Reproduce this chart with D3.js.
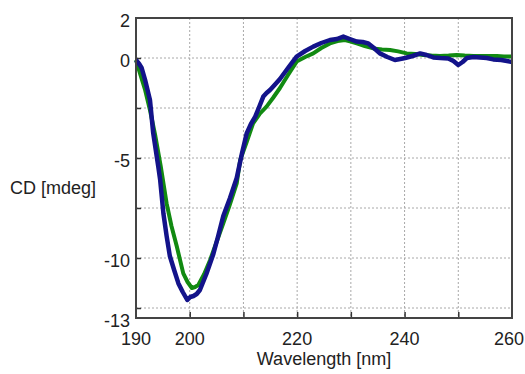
<!DOCTYPE html>
<html>
<head>
<meta charset="utf-8">
<script src="https://cdn.jsdelivr.net/npm/d3@7"></script>
<style>
  body { margin: 0; background: #fff; }
  text { font-family: "Liberation Sans", Arial, sans-serif; font-size: 18px; fill: #222; }
</style>
</head>
<body>
<svg width="525" height="374"></svg>
<script>
// data
const greenWl = [190, 190.75, 191.7, 192.6, 193.6, 194.6, 195.7, 196.6, 197.6, 198.8, 199.6, 200.4, 201.0, 201.6, 202.7, 203.8, 205.0, 206.25, 207.5, 208.75, 209.4, 210.6, 211.8, 213.0, 214.3, 215.5, 216.8, 218.3, 219.9, 221.5, 223.0, 224.5, 226.1, 227.5, 228.9, 230.0, 231.1, 232.6, 234.2, 235.8, 237.3, 238.8, 240.4, 242.0, 243.5, 245.0, 246.6, 248.2, 249.7, 251.2, 252.8, 255.0, 257.2, 258.5, 260];
const greenCd = [-0.1, -0.77, -1.6, -2.6, -3.9, -5.4, -7.27, -8.4, -9.43, -10.77, -11.2, -11.5, -11.45, -11.35, -10.8, -10.1, -9.2, -8.27, -7.3, -6.27, -5.1, -4.2, -3.27, -2.8, -2.43, -2.0, -1.5, -0.85, -0.18, 0.05, 0.23, 0.5, 0.73, 0.85, 0.9, 0.82, 0.73, 0.6, 0.48, 0.43, 0.4, 0.33, 0.23, 0.2, 0.15, 0.12, 0.1, 0.12, 0.15, 0.12, 0.1, 0.1, 0.1, 0.08, 0.07];

const blueWl = [190, 190.6, 191.06, 191.7, 192.6, 193.2, 194.15, 194.5, 195.1, 195.7, 196.3, 197.1, 197.9, 198.7, 199.55, 200.1, 200.7, 201.3, 201.9, 203.1, 204.4, 205.3, 206.25, 207.5, 208.75, 209.7, 210.6, 211.4, 212.2, 213.0, 213.7, 214.3, 214.95, 215.8, 216.8, 218.3, 219.9, 221.5, 223.0, 224.5, 226.1, 227.4, 228.6, 229.8, 231.1, 232.2, 233.25, 234.3, 235.4, 236.8, 238.2, 239.2, 240.1, 241.5, 242.9, 244.1, 245.35, 246.7, 248.15, 249.1, 250.0, 250.8, 251.6, 252.8, 254.05, 255.3, 256.5, 258.0, 259.6, 260];
const blueCd = [-0.1, -0.3, -0.5, -1.1, -2.1, -3.75, -5.43, -6.1, -7.77, -8.9, -9.9, -10.6, -11.27, -11.7, -12.1, -11.95, -11.9, -11.8, -11.6, -10.8, -9.8, -8.9, -7.9, -7.0, -6.0, -4.8, -3.77, -3.3, -2.93, -2.4, -1.93, -1.75, -1.6, -1.35, -1.05, -0.5, 0.07, 0.35, 0.57, 0.75, 0.9, 0.95, 1.07, 0.95, 0.82, 0.8, 0.73, 0.5, 0.23, 0.05, -0.1, -0.05, 0.0, 0.1, 0.23, 0.15, 0.03, 0.0, -0.02, -0.15, -0.35, -0.2, 0.0, 0.05, 0.03, 0.0, -0.07, -0.1, -0.18, -0.2];

const xTicks = [190, 200, 210, 220, 230, 240, 250, 260];
const xLabels = [190, 200, 220, 240, 260];
const yTicks = [2, 0, -2.5, -5, -7.5, -10, -12.5, -13];
const yLabels = [2, 0, -5, -10, -13];

const svg = d3.select('svg'),
  margin = {top: 18, right: 13, bottom: 56, left: 136},
  width = +svg.attr('width') - margin.left - margin.right,
  height = +svg.attr('height') - margin.top - margin.bottom;

const x = d3.scaleLinear().domain([190, 260]).range([0, width]),
  y = d3.scaleLinear().domain([-13, 2]).range([height, 0]);

const g = svg.append('g')
  .attr('transform', 'translate(' + margin.left + ',' + margin.top + ')');

// dotted grid
g.append('g').selectAll('line')
  .data(xTicks.filter(d => d > 190 && d < 260))
  .enter().append('line')
  .attr('x1', d => x(d)).attr('x2', d => x(d))
  .attr('y1', 0).attr('y2', height)
  .attr('stroke', '#a8a8a8').attr('stroke-dasharray', '2,2');
g.append('g').selectAll('line')
  .data([0, -2.5, -5, -7.5, -10, -12.5])
  .enter().append('line')
  .attr('x1', 0).attr('x2', width)
  .attr('y1', d => y(d)).attr('y2', d => y(d))
  .attr('stroke', '#a8a8a8').attr('stroke-dasharray', '2,2');

// inward ticks
g.append('g')
  .attr('transform', 'translate(0,' + height + ')')
  .call(d3.axisBottom(x).tickValues(xTicks.filter(d => d > 190 && d < 260)).tickSizeInner(-6).tickSizeOuter(0).tickFormat(''))
  .call(a => a.select('.domain').remove())
  .call(a => a.selectAll('line').attr('stroke', '#333').attr('stroke-width', 1.5));
g.append('g')
  .call(d3.axisLeft(y).tickValues(yTicks.filter(d => d < 2 && d > -13)).tickSizeInner(-5).tickSizeOuter(0).tickFormat(''))
  .call(a => a.select('.domain').remove())
  .call(a => a.selectAll('line').attr('stroke', '#333').attr('stroke-width', 1.5));

// tick labels (last one pulled in so it stays on the page)
g.selectAll('.xl')
  .data(xLabels)
  .enter().append('text')
  .attr('class', 'xl')
  .attr('x', d => d === 260 ? x(d) + 12 : x(d))
  .attr('y', height + 27)
  .attr('text-anchor', d => d === 260 ? 'end' : 'middle')
  .text(d => d);
g.selectAll('.yl')
  .data(yLabels)
  .enter().append('text')
  .attr('class', 'yl')
  .attr('x', -6)
  .attr('y', d => y(d) + 9)
  .attr('text-anchor', 'end')
  .text(d => d);

// axis titles
g.append('text')
  .attr('x', x(225))
  .attr('y', height + 47)
  .attr('text-anchor', 'middle')
  .text('Wavelength [nm]');
g.append('text')
  .attr('x', -126)
  .attr('y', 176)
  .text('CD [mdeg]');

// curves
g.append('clipPath').attr('id', 'clip')
  .append('rect').attr('x', -2).attr('y', 0).attr('width', width + 2).attr('height', height);

const line = d3.line()
  .x(d => x(d[0]))
  .y(d => y(d[1]));

g.append('path')
  .datum(d3.zip(greenWl, greenCd))
  .attr('clip-path', 'url(#clip)')
  .attr('fill', 'none')
  .attr('stroke', '#118a11')
  .attr('stroke-width', 4)
  .attr('stroke-linejoin', 'round')
  .attr('d', line);

g.append('path')
  .datum(d3.zip(blueWl, blueCd))
  .attr('clip-path', 'url(#clip)')
  .attr('fill', 'none')
  .attr('stroke', '#13138a')
  .attr('stroke-width', 4.5)
  .attr('stroke-linejoin', 'round')
  .attr('d', line);

// frame
g.append('rect')
  .attr('width', width).attr('height', height)
  .attr('fill', 'none')
  .attr('stroke', '#444').attr('stroke-width', 2);
</script>
</body>
</html>
